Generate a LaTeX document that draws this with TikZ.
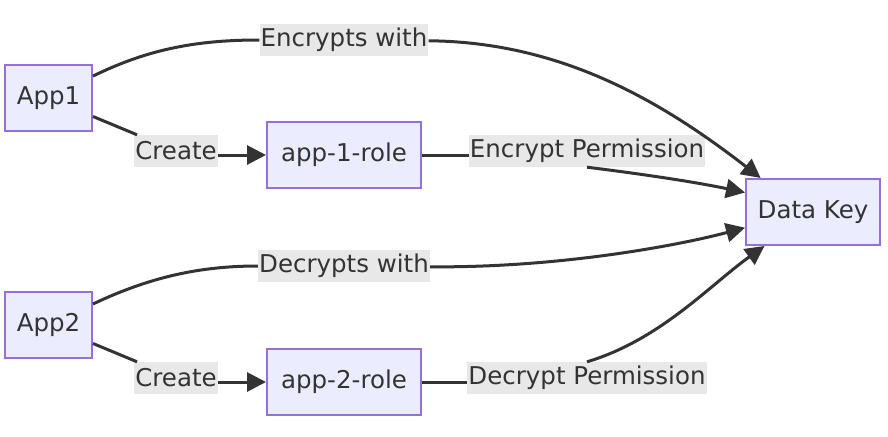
\documentclass[tikz,border=0pt]{standalone}
\usepackage{fontspec}
\setmainfont{DejaVu Sans}
\usetikzlibrary{arrows.meta}
\definecolor{boxfill}{HTML}{ECECFF}
\definecolor{boxline}{HTML}{9370DB}
\definecolor{ink}{HTML}{333333}
\definecolor{lblfill}{HTML}{E8E8E8}
\tikzset{
	box/.style={draw=boxline,line width=2pt,fill=boxfill,text=ink,minimum height=66pt,inner sep=0pt},
	lbl/.style={fill=lblfill,text=ink,inner xsep=1pt,inner ysep=0pt,minimum height=32pt},
	link/.style={draw=ink,line width=3pt},
	arr/.style={link,-{Triangle[length=19pt,width=19pt]}}
}
\begin{document}
\begin{tikzpicture}[x=1pt,y=-1pt,font=\fontsize{24.5}{29}\selectfont]
	\useasboundingbox (0,0) rectangle (888,436);
	\node[box,minimum width=87pt] (App1) at (48.5,98) {App1};
	\node[box,minimum width=154pt] (Role1) at (344,155) {app-1-role};
	\node[box,minimum width=134pt] (DataKey) at (813,212) {Data Key};
	\node[box,minimum width=87pt] (App2) at (48.5,325) {App2};
	\node[box,minimum width=154pt] (Role2) at (344,382) {app-2-role};
	% edge labels
	\node[lbl] (EncWith) at (344,40) {Encrypts with};
	\node[lbl] (Create1) at (176,151) {Create};
	\node[lbl] (EncPerm) at (587,151) {Encrypt Permission};
	\node[lbl] (DecWith) at (344,266) {Decrypts with};
	\node[lbl] (Create2) at (176,378) {Create};
	\node[lbl] (DecPerm) at (587,378) {Decrypt Permission};
	% App1
	\draw[link] (App1) .. controls (150,48) and (200,40) .. (EncWith);
	\draw[arr] (EncWith) .. controls (560,42) and (660,100) .. (DataKey.147);
	\draw[link] (App1) -- (Create1);
	\draw[arr] (Create1.east |- Role1) -- (Role1);
	\draw[link] (Role1) -- (EncPerm.west |- Role1);
	\draw[arr] (EncPerm.south) .. controls (650,175) and (700,183) .. (DataKey.164);
	% App2
	\draw[link] (App2) .. controls (150,277) and (200,266) .. (DecWith);
	\draw[arr] (DecWith) .. controls (560,268) and (680,245) .. (DataKey.193);
	\draw[link] (App2) -- (Create2);
	\draw[arr] (Create2.east |- Role2) -- (Role2);
	\draw[link] (Role2) -- (DecPerm.west |- Role2);
	\draw[arr] (DecPerm.north) .. controls (660,340) and (710,285) .. (DataKey.215);
\end{tikzpicture}
\end{document}
